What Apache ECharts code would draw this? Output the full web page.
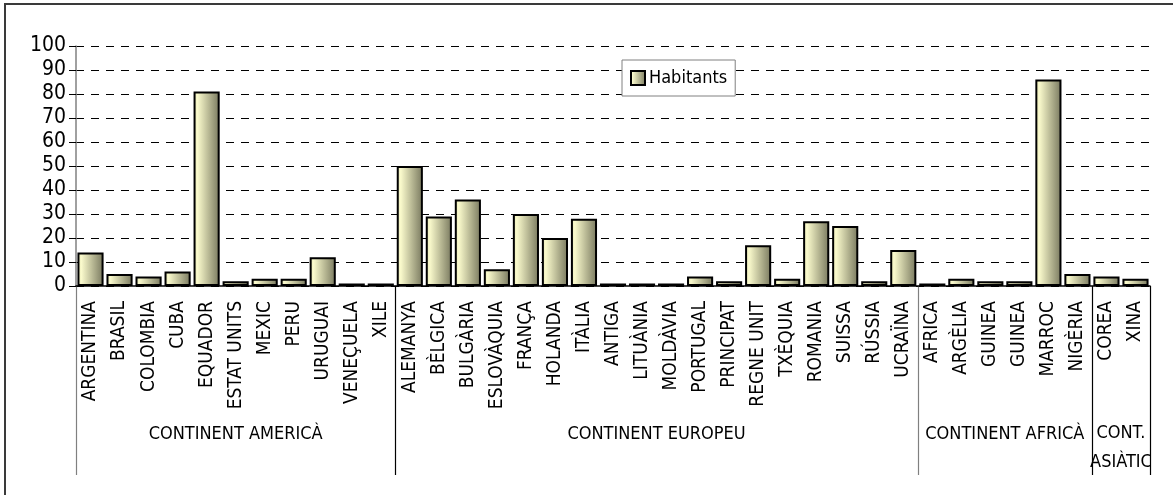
<!DOCTYPE html>
<html>
<head>
<meta charset="utf-8">
<script src="https://cdn.jsdelivr.net/npm/echarts@6/dist/echarts.min.js"></script>
<style>
  html, body { margin: 0; padding: 0; background: #fff; }
  #chart { width: 1173px; height: 495px; }
</style>
</head>
<body>
<div id="chart"></div>
<script>
// dades
const paisos = [
  'ARGENTINA', 'BRASIL', 'COLOMBIA', 'CUBA', 'EQUADOR', 'ESTAT UNITS', 'MEXIC', 'PERU', 'URUGUAI', 'VENEÇUELA', 'XILE',
  'ALEMANYA', 'BÈLGICA', 'BULGÀRIA', 'ESLOVÀQUIA', 'FRANÇA', 'HOLANDA', 'ITÀLIA', 'ANTIGA', 'LITUÀNIA', 'MOLDÀVIA',
  'PORTUGAL', 'PRINCIPAT', 'REGNE UNIT', 'TXÈQUIA', 'ROMANIA', 'SUISSA', 'RÚSSIA', 'UCRAÏNA',
  'AFRICA', 'ARGÈLIA', 'GUINEA', 'GUINEA', 'MARROC', 'NIGÈRIA',
  'COREA', 'XINA'
];
const habitants = [
  14, 5, 4, 6, 81, 2, 3, 3, 12, 1, 1,
  50, 29, 36, 7, 30, 20, 28, 1, 1, 1,
  4, 2, 17, 3, 27, 25, 2, 15,
  1, 3, 2, 2, 86, 5,
  4, 3
];
const continents = ['CONTINENT AMERICÀ', 'CONTINENT EUROPEU', 'CONTINENT AFRICÀ', 'CONT.\nASIÀTIC'];
const midaContinent = [11, 18, 6, 2];
const ticksY = [0, 10, 20, 30, 40, 50, 60, 70, 80, 90, 100];

const font = "'Liberation Sans Narrow', 'Arial Narrow', 'DejaVu Sans Condensed', sans-serif";

const gradient = new echarts.graphic.LinearGradient(0, 0, 1, 0, [
  { offset: 0, color: '#e6e6b4' },
  { offset: 0.15, color: '#fafacc' },
  { offset: 1, color: '#78785e' }
]);

const myChart = echarts.init(document.getElementById('chart'));

let option = {
  animation: false,
  backgroundColor: '#ffffff',
  grid: { left: 76, right: 23, top: 46, bottom: 209 },
  legend: {
    data: ['Habitants'],
    left: 622,
    top: 60,
    padding: [9, 8, 9, 8],
    backgroundColor: '#ffffff',
    borderColor: '#808080',
    borderWidth: 1,
    borderRadius: 0,
    itemWidth: 14,
    itemHeight: 14,
    icon: 'rect',
    textStyle: { fontFamily: font, fontSize: 18, color: '#000', padding: [0, 0, 0, -1] },
    itemStyle: { borderColor: '#000', borderWidth: 2 }
  },
  xAxis: {
    type: 'category',
    data: paisos,
    boundaryGap: true,
    axisLine: { show: true, lineStyle: { color: '#000', width: 1.5 } },
    axisTick: { show: false },
    axisLabel: {
      interval: 0,
      rotate: 90,
      margin: 15,
      fontFamily: font,
      fontSize: 19,
      color: '#000'
    },
    splitLine: { show: false }
  },
  yAxis: {
    type: 'value',
    min: ticksY[0],
    max: ticksY[ticksY.length - 1],
    interval: 10,
    axisLine: { show: true, lineStyle: { color: '#808080', width: 1.5 } },
    axisTick: { show: true, length: 7, lineStyle: { color: '#000' } },
    axisLabel: {
      margin: 10,
      fontFamily: font,
      fontSize: 21,
      color: '#000'
    },
    splitLine: { show: true, lineStyle: { color: '#000', type: [8, 7], width: 1 } }
  },
  series: [
    {
      name: 'Habitants',
      type: 'bar',
      data: habitants,
      barCategoryGap: '10%',
      itemStyle: {
        color: gradient,
        borderColor: '#000',
        borderWidth: 2
      }
    }
  ]
};
option && myChart.setOption(option);

// separadors i noms de continents sota l'eix
const c0 = myChart.convertToPixel({ xAxisIndex: 0 }, 0);
const c1 = myChart.convertToPixel({ xAxisIndex: 0 }, 1);
const w = c1 - c0;
const y0 = myChart.convertToPixel({ yAxisIndex: 0 }, 0);
const baixY = 475;

let elements = [
  {
    type: 'rect',
    shape: { x: 5, y: 4, width: 1300, height: 600 },
    style: { fill: null, stroke: '#3a3a3a', lineWidth: 2 },
    silent: true
  }
];

let idx = 0;
const vores = [0];
midaContinent.forEach(function (n) { idx += n; vores.push(idx); });
vores.forEach(function (v, i) {
  const x = Math.round(c0 - w / 2 + v * w) + 0.5;
  elements.push({
    type: 'line',
    shape: { x1: x, y1: y0, x2: x, y2: baixY },
    style: { stroke: i === 0 || i === 2 ? '#808080' : '#000', lineWidth: 1.2 },
    silent: true
  });
});
continents.forEach(function (nom, i) {
  const xm = c0 - w / 2 + (vores[i] + vores[i + 1]) / 2 * w;
  elements.push({
    type: 'text',
    x: xm,
    y: nom.indexOf('\n') >= 0 ? 448 : 434,
    style: {
      text: nom,
      fontFamily: font,
      fontSize: 18,
      fill: '#000',
      align: 'center',
      verticalAlign: 'middle',
      lineHeight: 29
    },
    silent: true
  });
});

myChart.setOption({ graphic: elements });
</script>
</body>
</html>
